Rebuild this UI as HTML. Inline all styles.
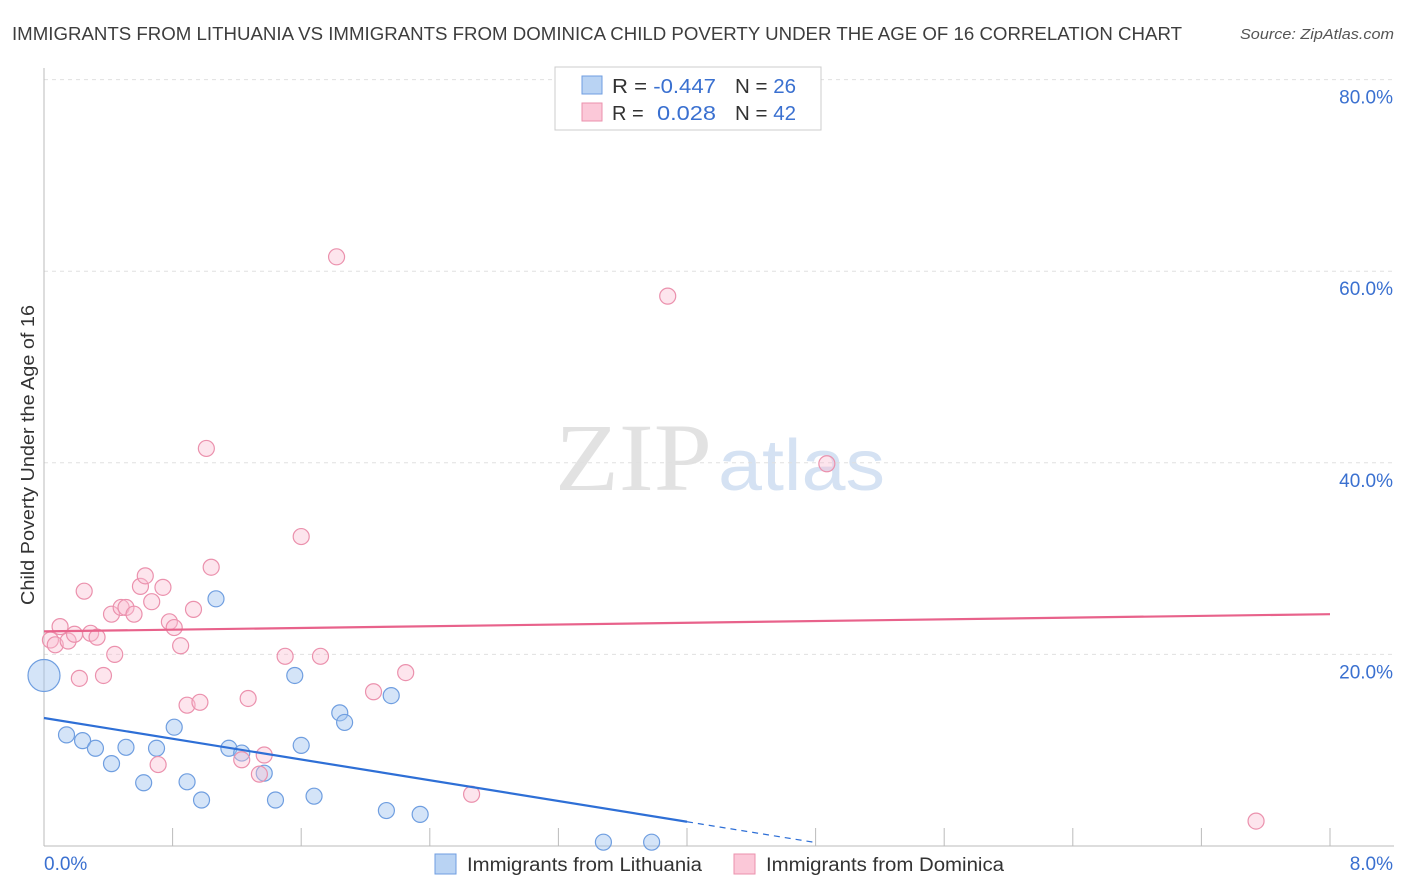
<!DOCTYPE html>
<html><head><meta charset="utf-8"><style>
body{margin:0;background:#fff;font-family:"Liberation Sans",sans-serif;}
#c{position:relative;width:1406px;height:892px;overflow:hidden}
</style></head><body><div id="c">
<svg id="s" width="1406" height="892" xmlns="http://www.w3.org/2000/svg">
<text x="12" y="40" font-size="18" fill="#3d3d3d" textLength="1170" lengthAdjust="spacingAndGlyphs">IMMIGRANTS FROM LITHUANIA VS IMMIGRANTS FROM DOMINICA CHILD POVERTY UNDER THE AGE OF 16 CORRELATION CHART</text>
<text x="1240" y="39" font-size="15" fill="#555" font-style="italic" textLength="154" lengthAdjust="spacingAndGlyphs">Source: ZipAtlas.com</text>
<text x="555" y="490" font-size="96" fill="#e2e2e2" font-family="Liberation Serif,serif" textLength="157" lengthAdjust="spacingAndGlyphs">ZIP</text>
<text x="718" y="490" font-size="72" fill="#d5e2f3" textLength="167" lengthAdjust="spacingAndGlyphs">atlas</text>
<text transform="translate(34,605) rotate(-90)" font-size="18" fill="#333" textLength="300" lengthAdjust="spacingAndGlyphs">Child Poverty Under the Age of 16</text>
<g id="grid"></g><g id="pts"></g>
<g>
<rect x="555" y="67" width="266" height="63" fill="#fff" stroke="#ccc"/>
<rect x="582" y="76" width="20" height="18" fill="#b9d3f3" stroke="#6f9ee0"/>
<rect x="582" y="103" width="20" height="18" fill="#fbc8d8" stroke="#eb91ad"/>
<text x="612" y="93" font-size="20" fill="#333" textLength="104" lengthAdjust="spacingAndGlyphs">R = <tspan fill="#3a70d0">-0.447</tspan></text>
<text x="735" y="93" font-size="20" fill="#333" textLength="61" lengthAdjust="spacingAndGlyphs">N = <tspan fill="#3a70d0">26</tspan></text>
<text x="612" y="120" font-size="20" fill="#333">R = </text><text x="657" y="120" font-size="20" fill="#3a70d0" textLength="59" lengthAdjust="spacingAndGlyphs">0.028</text>
<text x="735" y="120" font-size="20" fill="#333" textLength="61" lengthAdjust="spacingAndGlyphs">N = <tspan fill="#3a70d0">42</tspan></text>
</g>
<g>
<rect x="435" y="854" width="21" height="20" fill="#b9d3f3" stroke="#6f9ee0"/>
<text x="467" y="871" font-size="19" fill="#333" textLength="235" lengthAdjust="spacingAndGlyphs">Immigrants from Lithuania</text>
<rect x="734" y="854" width="21" height="20" fill="#fbc8d8" stroke="#eb91ad"/>
<text x="766" y="871" font-size="19" fill="#333" textLength="238" lengthAdjust="spacingAndGlyphs">Immigrants from Dominica</text>
</g>
</svg></div>
<script>
const yTicks=[0,20,40,60,80];
const xTickCount=10;
const xMax=8;
const blueX=[0,0.14,0.24,0.32,0.42,0.51,0.62,0.70,0.81,0.89,0.98,1.07,1.15,1.23,1.37,1.44,1.56,1.60,1.68,1.84,1.87,2.13,2.16,2.34,3.48,3.78];
const blueY=[17.8,11.6,11.0,10.2,8.6,10.3,6.6,10.2,12.4,6.7,4.8,25.8,10.2,9.7,7.6,4.8,17.8,10.5,5.2,13.9,12.9,3.7,15.7,3.3,0.4,0.4];
const pinkX=[0.04,0.07,0.10,0.15,0.19,0.22,0.25,0.29,0.33,0.37,0.42,0.44,0.48,0.51,0.56,0.60,0.63,0.67,0.71,0.74,0.78,0.81,0.85,0.89,0.93,0.97,1.01,1.04,1.23,1.27,1.34,1.37,1.50,1.60,1.72,1.82,2.05,2.25,2.66,3.88,4.87,7.54];
const pinkY=[21.5,21.0,22.9,21.4,22.1,17.5,26.6,22.2,21.8,17.8,24.2,20.0,24.9,24.9,24.2,27.1,28.2,25.5,8.5,27.0,23.4,22.8,20.9,14.7,24.7,15.0,41.5,29.1,9.0,15.4,7.5,9.5,19.8,32.3,19.8,61.5,16.1,18.1,5.4,57.4,39.9,2.6];
const blueLine=[13.36,-8.3];
const pinkLine=[22.4,24.2];
const NS='http://www.w3.org/2000/svg';
const X=v=>44+v*(1286/xMax), Y=v=>846-v*9.58;
function mk(t,a,p){const e=document.createElementNS(NS,t);for(const k in a)e.setAttribute(k,a[k]);p.appendChild(e);return e;}
const g=document.getElementById('grid'),P=document.getElementById('pts');
yTicks.forEach(t=>{if(t>0){const l=mk('line',{x1:44,x2:1394,y1:Y(t),y2:Y(t),stroke:'#e0e0e0','stroke-dasharray':'4,4'},g);


const tx=mk('text',{x:1393,y:Y(t)+24,'font-size':19,fill:'#3a70d0','text-anchor':'end'},g);tx.textContent=t.toFixed(1)+'%';

}});
mk('line',{x1:44,x2:44,y1:68,y2:846,stroke:'#bbb'},g);
mk('line',{x1:44,x2:1394,y1:846,y2:846,stroke:'#bbb'},g);
for(let i=0;i<=xTickCount;i++){const x=X(i*xMax/xTickCount);mk('line',{x1:x,x2:x,y1:828,y2:846,stroke:'#bbb'},g);}
const x0=mk('text',{x:44,y:870,'font-size':19,fill:'#3a70d0'},g);x0.textContent='0.0%';


const x1=mk('text',{x:1393,y:870,'font-size':19,fill:'#3a70d0','text-anchor':'end'},g);x1.textContent=xMax.toFixed(1)+'%';


blueX.forEach((v,i)=>{const c=mk('circle',{cx:X(v),cy:Y(blueY[i]),r:i==0?16:8,fill:'rgba(160,195,240,0.45)',stroke:'#6f9ee0','stroke-width':1.2},P);

});
pinkX.forEach((v,i)=>{const c=mk('circle',{cx:X(v),cy:Y(pinkY[i]),r:8,fill:'rgba(250,190,210,0.4)',stroke:'#eb91ad','stroke-width':1.2},P);

});
const pl=mk('line',{x1:X(0),y1:Y(pinkLine[0]),x2:X(xMax),y2:Y(pinkLine[1]),stroke:'#e8628b','stroke-width':2.2},P);


const bs=(blueLine[1]-blueLine[0])/xMax, bx=4.0, bz=4.8;
const bl=mk('line',{x1:X(0),y1:Y(blueLine[0]),x2:X(bx),y2:Y(blueLine[0]+bs*bx),stroke:'#2e6fd6','stroke-width':2.2},P);


const bd=mk('line',{x1:X(bx),y1:Y(blueLine[0]+bs*bx),x2:X(bz),y2:Y(blueLine[0]+bs*bz),stroke:'#2e6fd6','stroke-width':1.2,'stroke-dasharray':'6,5'},P);


</script></body></html>
